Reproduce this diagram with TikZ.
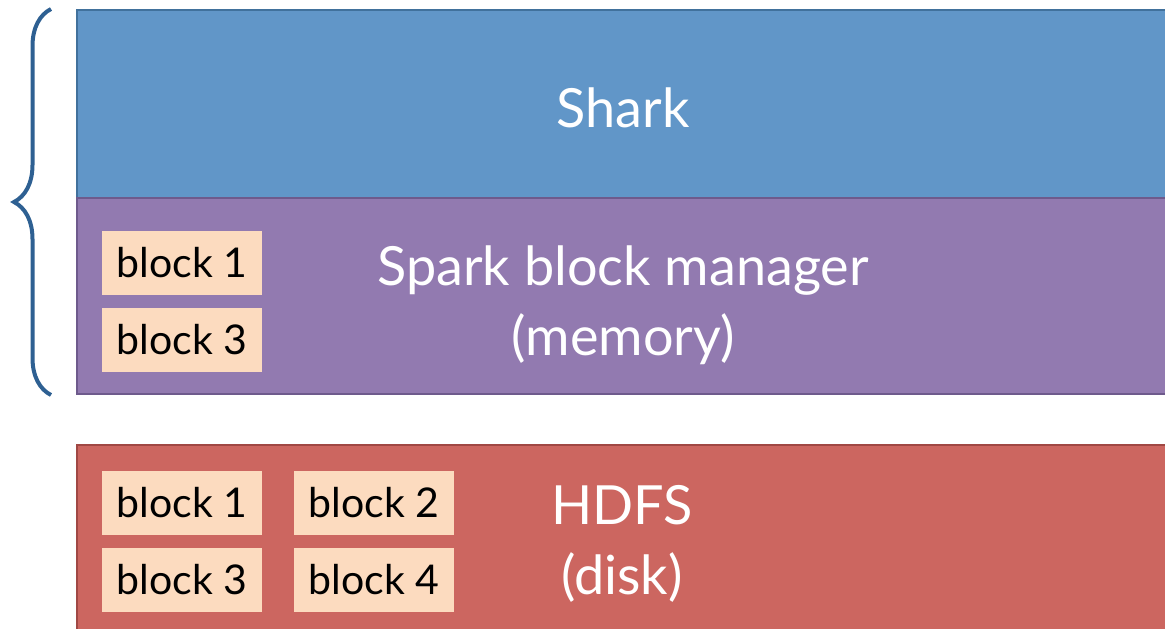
\documentclass[tikz,border=0pt]{standalone}
\usepackage{fontspec}
\setmainfont{Lato}
\usetikzlibrary{decorations.pathreplacing, positioning}

\definecolor{sharkblue}{RGB}{97,150,200}
\definecolor{sharkedge}{RGB}{65,113,156}
\definecolor{bmpurple}{RGB}{146,122,176}
\definecolor{bmedge}{RGB}{110,90,140}
\definecolor{hdfsred}{RGB}{204,102,96}
\definecolor{hdfsedge}{RGB}{160,72,68}
\definecolor{blockpeach}{RGB}{252,219,191}
\definecolor{bracecol}{RGB}{46,96,146}

\begin{document}
\begin{tikzpicture}[x=0.5pt, y=-0.5pt,
    layer/.style={draw, line width=1pt, minimum width=546pt, inner sep=0pt},
    layertext/.style={text=white, align=center, font=\fontsize{27}{35}\selectfont},
    blockbox/.style={fill=blockpeach, minimum width=80pt, minimum height=32pt,
                     inner sep=0pt, font=\fontsize{20.5}{25}\selectfont}]

    \clip (0,0) rectangle (1165,628);

    % LAYERS
    \node[layer, fill=sharkblue, draw=sharkedge, minimum height=94pt] (shark) at (623,104) {};
    \node[layer, fill=bmpurple, draw=bmedge, minimum height=98pt] (bm) at (623,296) {};
    \node[layer, fill=hdfsred, draw=hdfsedge, minimum height=107.5pt] (hdfs) at (623,552.5) {};

    % LAYER LABELS
    \node[layertext] (sharklabel) at (623,108) {Shark};
    \node[layertext] (bmlabel) at (623,305) {Spark block manager\\(memory)};
    \node[layertext] (hdfslabel) at (622,544) {HDFS\\(disk)};

    % BLOCKS IN MEMORY
    \foreach \name/\x/\y/\txt in {mem1/182/263/1, mem3/182/340/3}{
        \node[blockbox] (\name) at (\x,\y) {block \txt};
    }

    % BLOCKS ON DISK
    \foreach \name/\x/\y/\txt in {
        disk1/182/503/1, disk2/374/503/2,
        disk3/182/580/3, disk4/374/580/4
    }{
        \node[blockbox] (\name) at (\x,\y) {block \txt};
    }

    % BRACE OVER SHARK + BLOCK MANAGER
    \draw[bracecol, line width=2pt, decorate,
          decoration={brace, amplitude=18.5pt}]
        (bm.south west) ++(-25,0) coordinate (bracebot)
        (shark.north west) ++(-25,0) coordinate (bracetop)
        (bracebot) -- (bracetop);

\end{tikzpicture}
\end{document}
